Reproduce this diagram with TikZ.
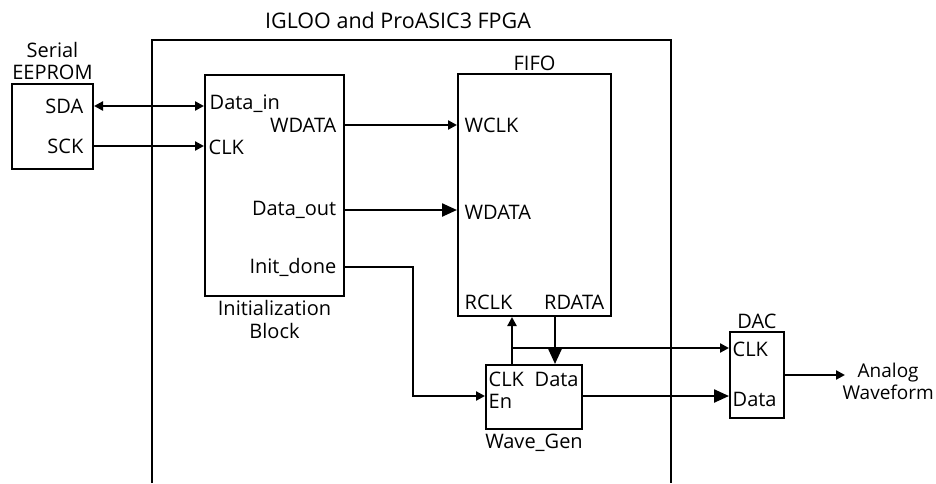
\documentclass[tikz,border=0pt]{standalone}
\usepackage{fontspec}
\setmainfont{Open Sans}
\usetikzlibrary{arrows.meta}

\tikzset{
  blk/.style={draw, line width=2pt, anchor=north west, inner sep=0pt},
  pin/.style={inner sep=0.5pt},
  wire/.style={line width=2.4pt},
  sarr/.style={wire, -{Triangle[length=9pt,width=9pt]}},
  barr/.style={wire, -{Triangle[length=15pt,width=13pt]}},
}

\begin{document}
\begin{tikzpicture}[x=1pt, y=-1pt, font=\fontsize{20}{22.5}\selectfont]
\useasboundingbox (0,0) rectangle (936,483);

% FPGA outline (runs off the bottom)
\draw[line width=2pt] (152,483) -- (152,40) -- (671,40) -- (671,483);
\node[font=\fontsize{21.5}{24}\selectfont] (fpga) at (398,20) {IGLOO and ProASIC3 FPGA};

% blocks
\node[blk, minimum width=81,  minimum height=85]  (eeprom) at (11,83)   {};
\node[blk, minimum width=139, minimum height=221] (init)   at (204,74)  {};
\node[blk, minimum width=153, minimum height=242] (fifo)   at (457,73)  {};
\node[blk, minimum width=96,  minimum height=64]  (wgen)   at (485,364) {};
\node[blk, minimum width=54,  minimum height=86]  (dac)    at (729,331) {};

% block titles
\node[anchor=south, align=center, inner sep=3pt] (eepromlbl) at (eeprom.north) {Serial\\EEPROM};
\node[anchor=north, align=center] (initlbl)   at (init.south)   {Initialization\\Block};
\node[anchor=south, inner sep=2pt] (fifolbl) at (fifo.north) {FIFO};
\node[anchor=north] (wgenlbl) at (wgen.south) {Wave\_Gen};
\node[anchor=south, inner sep=2pt] (daclbl)  at (dac.north)  {DAC};

% pins
\node[pin, anchor=east] (sda)   at (84,106)  {SDA};
\node[pin, anchor=east] (sck)   at (84,146)  {SCK};
\node[pin, anchor=west] (din)   at (209,104) {Data\_in};
\node[pin, anchor=east] (wdo)   at (337,125) {WDATA};
\node[pin, anchor=west] (clk)   at (208,147) {CLK};
\node[pin, anchor=east] (dout)  at (337,210) {Data\_out};
\node[pin, anchor=east] (idone) at (337,267) {Init\_done};

\node[pin, anchor=west] (wclk)  at (464,125) {WCLK};
\node[pin, anchor=west] (wdi)   at (464,212) {WDATA};
\node[pin, anchor=west] (rclk)  at (464,302) {RCLK};
\node[pin, anchor=east] (rdata) at (605,302) {RDATA};

\node[pin, anchor=west] (gclk)  at (488,379) {CLK};
\node[pin, anchor=west] (gdat)  at (534,379) {Data};
\node[pin, anchor=west] (en)    at (488,401) {En};

\node[pin, anchor=west] (dclk)  at (732,349) {CLK};
\node[pin, anchor=west] (ddat)  at (732,399) {Data};

\node[align=center, anchor=east, inner sep=0pt,
      font=\fontsize{19}{22}\selectfont] (analog) at (934,381) {Analog\\Waveform};

% taps and bends
\coordinate (turn)   at (413,267);
\coordinate (enin)   at (485,396);
\coordinate (tapclk) at (512,348);
\coordinate (rdx)    at (555,0);
\coordinate (aout)   at (845,375);

% connections
\draw[wire, {Triangle[length=9pt,width=9pt]}-{Triangle[length=9pt,width=9pt]}]
  (eeprom.east |- sda) -- (init.west |- sda);
\draw[sarr] (eeprom.east |- sck) -- (init.west |- sck);
\draw[sarr] (init.east |- wdo) -- (fifo.west |- wdo);
\draw[barr] (init.east |- dout) -- (fifo.west |- dout);
\draw[sarr] (init.east |- idone) -- (turn) |- (enin);
\draw[sarr] (wgen.north -| tapclk) -- (fifo.south -| tapclk);
\draw[sarr] (tapclk) -- (dac.west |- tapclk);
\draw[barr] (fifo.south -| rdx) -- (wgen.north -| rdx);
\draw[barr] (wgen.east |- enin) -- (dac.west |- enin);
\draw[sarr] (dac.east) -- (aout);
\end{tikzpicture}
\end{document}
